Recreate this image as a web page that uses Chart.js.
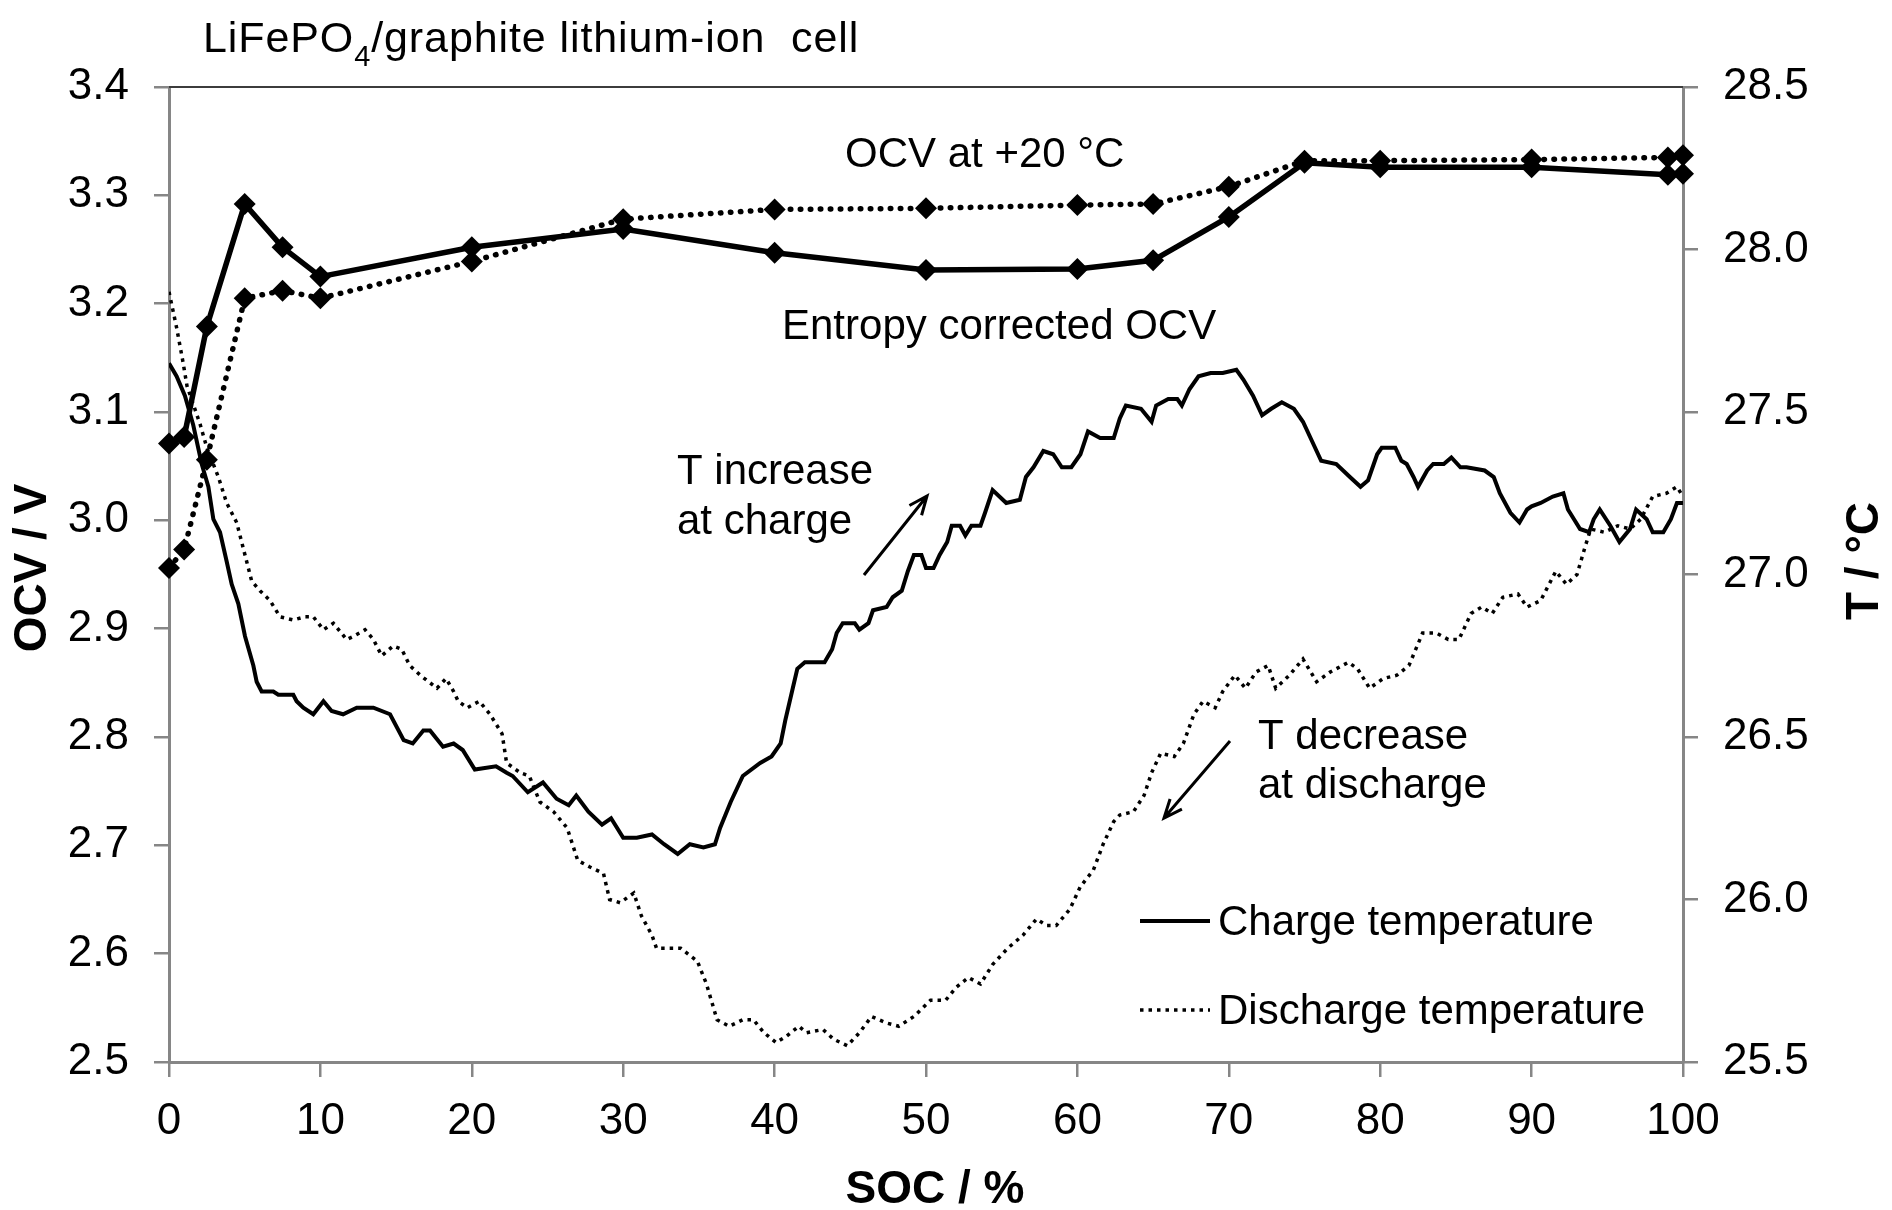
<!DOCTYPE html>
<html>
<head>
<meta charset="utf-8">
<title>LiFePO4/graphite lithium-ion cell</title>
<script src="https://cdn.jsdelivr.net/npm/chart.js@4.4.1/dist/chart.umd.min.js"></script>
<style>
  html, body { margin: 0; padding: 0; background: #fff; }
  canvas { display: block; }
</style>
</head>
<body>
<canvas id="grafico" width="1892" height="1210"></canvas>
<script>
/* ── Dados ────────────────────────────────────────────────── */
const socOcv      = [0, 1, 2.5, 5, 7.5, 10, 20, 30, 40, 50, 60, 65, 70, 75, 80, 90, 99, 100];
const ocv20       = [2.956, 2.973, 3.056, 3.205, 3.212, 3.205, 3.239, 3.278, 3.287, 3.288, 3.291, 3.292, 3.308, 3.332, 3.332, 3.333, 3.335, 3.337];
const ocvEntropia = [3.071, 3.077, 3.179, 3.292, 3.252, 3.225, 3.252, 3.269, 3.247, 3.231, 3.232, 3.240, 3.280, 3.330, 3.326, 3.326, 3.319, 3.320];

const socCarga = [0, 0.5, 1.05, 1.6, 2.16, 2.6, 2.93, 3.37, 3.81, 4.14, 4.58, 5.02, 5.57, 5.79, 6.12, 6.89, 7.22, 8.21, 8.43, 8.87,
  9.53, 10.2, 10.74, 11.5, 12.4, 13.5, 14.6, 15.5, 16.1, 16.8, 17.24, 18.1, 18.8, 19.4, 20.2, 21.6, 22.3, 22.7, 23.7, 24.7,
  25.6, 26.4, 26.9, 27.7, 28.6, 29.2, 30.0, 30.9, 31.9, 32.7, 33.6, 34.4, 35.3, 36.06, 36.4, 37.1, 37.9, 39.05, 39.8, 40.4,
  40.7, 41.2, 41.5, 42.0, 43.3, 43.8, 44.1, 44.5, 45.3, 45.6, 46.2, 46.5, 47.4, 47.8, 48.4, 48.8, 49.2, 49.7, 50.0, 50.5,
  50.9, 51.4, 51.7, 52.25, 52.6, 53.0, 53.6, 53.9, 54.4, 55.3, 56.2, 56.6, 57.1, 57.75, 58.4, 58.97, 59.6, 60.2, 60.7, 61.5,
  62.4, 62.8, 63.2, 64.2, 64.9, 65.2, 66.0, 66.6, 66.9, 67.4, 68.0, 68.8, 69.6, 70.5, 70.96, 71.6, 72.2, 72.8, 73.5, 74.3,
  74.9, 75.5, 76.1, 77.1, 78.0, 78.7, 79.2, 79.8, 80.1, 81.0, 81.4, 81.75, 82.2, 82.5, 83.1, 83.5, 84.2, 84.7, 85.3, 85.7,
  86.9, 87.5, 87.9, 88.6, 89.2, 89.7, 90.0, 90.6, 91.4, 92.1, 92.4, 92.8, 93.2, 93.8, 94.1, 94.5, 95.2, 95.8, 96.5, 96.9,
  97.6, 98.0, 98.7, 99.2, 99.6, 100];
const tempCarga = [27.65, 27.61, 27.55, 27.46, 27.34, 27.27, 27.17, 27.13, 27.04, 26.97, 26.91, 26.81, 26.72, 26.67, 26.64, 26.64, 26.63, 26.63, 26.61, 26.59,
  26.57, 26.61, 26.58, 26.57, 26.59, 26.59, 26.57, 26.49, 26.48, 26.52, 26.52, 26.47, 26.48, 26.46, 26.40, 26.41, 26.39, 26.38, 26.33, 26.36,
  26.31, 26.29, 26.32, 26.27, 26.23, 26.25, 26.19, 26.19, 26.20, 26.17, 26.14, 26.17, 26.16, 26.17, 26.22, 26.30, 26.38, 26.42, 26.44, 26.48,
  26.55, 26.65, 26.71, 26.73, 26.73, 26.77, 26.82, 26.85, 26.85, 26.83, 26.85, 26.89, 26.90, 26.93, 26.95, 27.01, 27.06, 27.06, 27.02, 27.02,
  27.06, 27.10, 27.15, 27.15, 27.12, 27.15, 27.15, 27.19, 27.26, 27.22, 27.23, 27.30, 27.33, 27.38, 27.37, 27.33, 27.33, 27.37, 27.44, 27.42,
  27.42, 27.48, 27.52, 27.51, 27.47, 27.52, 27.54, 27.54, 27.52, 27.57, 27.61, 27.62, 27.62, 27.63, 27.60, 27.55, 27.49, 27.51, 27.53, 27.51,
  27.47, 27.41, 27.35, 27.34, 27.30, 27.27, 27.29, 27.37, 27.39, 27.39, 27.35, 27.34, 27.30, 27.27, 27.32, 27.34, 27.34, 27.36, 27.33, 27.33,
  27.32, 27.30, 27.25, 27.19, 27.16, 27.20, 27.21, 27.22, 27.24, 27.25, 27.20, 27.17, 27.14, 27.13, 27.17, 27.20, 27.15, 27.10, 27.14, 27.20,
  27.17, 27.13, 27.13, 27.17, 27.22, 27.22];

const socDescarga = [0, 0.5, 0.9, 1.19, 1.63, 2.07, 2.5, 3.26, 3.81, 4.47, 4.91, 5.46, 6.01, 6.67, 7.33, 8.21, 8.98, 9.53, 10.2, 10.86,
  11.73, 12.2, 12.95, 13.5, 14.05, 14.8, 15.37, 15.9, 16.6, 17.7, 18.3, 18.8, 19.1, 19.7, 20.5, 21.2, 22.0, 22.3, 23.2, 23.8,
  24.5, 25.4, 26.3, 27.0, 27.8, 28.7, 29.1, 29.8, 30.7, 31.2, 31.9, 32.2, 33.1, 33.8, 34.9, 35.5, 36.2, 37.0, 37.9, 38.6,
  39.3, 40.1, 40.8, 41.6, 42.1, 43.2, 43.9, 44.8, 45.6, 46.4, 47.4, 48.2, 49.2, 50.3, 51.3, 52.0, 52.8, 53.6, 54.4, 55.4,
  56.4, 57.3, 57.97, 58.6, 59.5, 60.2, 61.05, 61.7, 62.4, 62.8, 63.7, 64.4, 64.9, 65.5, 66.4, 67.0, 67.7, 68.3, 69.1, 69.6,
  70.4, 71.1, 71.8, 72.6, 73.1, 74.0, 74.9, 75.8, 76.7, 77.9, 78.5, 79.3, 80.2, 81.1, 81.9, 82.8, 83.7, 84.5, 85.2, 86.0,
  86.7, 87.4, 88.1, 89.1, 89.7, 90.6, 91.6, 92.3, 93.0, 93.5, 93.9, 94.8, 95.7, 96.5, 97.2, 98.0, 98.9, 99.6, 100];
const tempDescarga = [27.87, 27.76, 27.66, 27.58, 27.52, 27.46, 27.39, 27.30, 27.22, 27.16, 27.08, 26.98, 26.95, 26.92, 26.87, 26.86, 26.87, 26.87, 26.83, 26.85,
  26.80, 26.81, 26.83, 26.80, 26.75, 26.78, 26.77, 26.72, 26.69, 26.65, 26.68, 26.64, 26.61, 26.59, 26.61, 26.57, 26.51, 26.42, 26.39, 26.38,
  26.30, 26.27, 26.22, 26.12, 26.10, 26.08, 26.00, 25.99, 26.02, 25.95, 25.89, 25.85, 25.85, 25.85, 25.81, 25.74, 25.63, 25.61, 25.63, 25.63,
  25.59, 25.56, 25.58, 25.61, 25.59, 25.60, 25.57, 25.55, 25.59, 25.64, 25.62, 25.61, 25.64, 25.69, 25.69, 25.73, 25.76, 25.74, 25.80, 25.85,
  25.89, 25.94, 25.92, 25.92, 25.97, 26.04, 26.09, 26.17, 26.24, 26.26, 26.27, 26.32, 26.39, 26.45, 26.44, 26.48, 26.57, 26.61, 26.59, 26.64,
  26.69, 26.65, 26.70, 26.72, 26.65, 26.69, 26.74, 26.67, 26.70, 26.73, 26.71, 26.65, 26.68, 26.69, 26.72, 26.82, 26.82, 26.80, 26.80, 26.88,
  26.90, 26.88, 26.93, 26.94, 26.90, 26.92, 27.01, 26.97, 27.00, 27.08, 27.14, 27.13, 27.15, 27.14, 27.17, 27.24, 27.25, 27.27, 27.24];

const socTicks  = [0, 10, 20, 30, 40, 50, 60, 70, 80, 90, 100];
const ocvTicks  = [2.5, 2.6, 2.7, 2.8, 2.9, 3.0, 3.1, 3.2, 3.3, 3.4];
const tempTicks = [25.5, 26.0, 26.5, 27.0, 27.5, 28.0, 28.5];

/* ── Estilo ───────────────────────────────────────────────── */
const FONTE = '"Liberation Sans", Arial, sans-serif';
const CINZA = '#868686';
Chart.defaults.font.family = FONTE;
Chart.defaults.color = '#000';

const _pts = (xs, ys) => xs.map((x, i) => ({ x, y: ys[i] }));
const _ticks = arr => axis => { axis.ticks = arr.map(v => ({ value: v })); };

const eixoY = (pos, min, max, arr, larg) => ({
  type: 'linear', position: pos, min, max,
  afterBuildTicks: _ticks(arr),
  afterFit: s => { s.width = larg; },
  grid:   { drawOnChartArea: false, tickLength: 15, lineWidth: 2.5, color: CINZA },
  border: { color: CINZA, width: 3 },
  ticks:  { font: { size: 44 }, color: '#000', padding: 25, callback: v => v.toFixed(1) },
  title:  { display: false },
});

/* ── Textos, setas e legenda ──────────────────────────────── */
const decoracao = {
  id: 'decoracao',
  afterDraw(chart) {
    const { ctx, chartArea: a } = chart;
    ctx.save();

    // borda superior da área do gráfico
    ctx.strokeStyle = '#3c3c3c'; ctx.lineWidth = 2;
    ctx.beginPath(); ctx.moveTo(a.left, a.top); ctx.lineTo(a.right, a.top); ctx.stroke();

    ctx.fillStyle = '#000'; ctx.textAlign = 'left';

    // título com subscrito
    ctx.textBaseline = 'alphabetic';
    ctx.letterSpacing = '0.9px';
    let x = 203;
    ctx.font = `43px ${FONTE}`;
    ctx.fillText('LiFePO', x, 52); x += ctx.measureText('LiFePO').width;
    ctx.font = `29px ${FONTE}`;
    ctx.fillText('4', x, 66); x += ctx.measureText('4').width;
    ctx.font = `43px ${FONTE}`;
    ctx.fillText('/graphite lithium-ion  cell', x, 52);
    ctx.letterSpacing = '0px';

    // anotações
    ctx.textBaseline = 'middle';
    ctx.font = `42px ${FONTE}`;
    [['OCV at +20 °C', 845, 155], ['Entropy corrected OCV', 782, 327],
     ['T increase', 677, 472], ['at charge', 677, 522],
     ['T decrease', 1258, 737], ['at discharge', 1258, 786]]
      .forEach(([t, tx, ty]) => ctx.fillText(t, tx, ty));

    const seta = (x1, y1, x2, y2) => {
      const ang = Math.atan2(y2 - y1, x2 - x1), h = 20;
      ctx.beginPath();
      ctx.moveTo(x1, y1); ctx.lineTo(x2, y2);
      ctx.moveTo(x2 - h * Math.cos(ang - 0.4), y2 - h * Math.sin(ang - 0.4));
      ctx.lineTo(x2, y2);
      ctx.lineTo(x2 - h * Math.cos(ang + 0.4), y2 - h * Math.sin(ang + 0.4));
      ctx.stroke();
    };
    ctx.strokeStyle = '#000'; ctx.lineWidth = 3; ctx.lineCap = 'butt';
    seta(864, 575, 927, 496);
    seta(1230, 741, 1164, 818);

    // legenda (só as temperaturas)
    [[2, 921], [3, 1010]].forEach(([i, ly]) => {
      const ds = chart.data.datasets[i];
      ctx.save();
      ctx.strokeStyle = ds.borderColor; ctx.lineWidth = ds.borderWidth;
      ctx.setLineDash(ds.borderDash || []);
      ctx.beginPath(); ctx.moveTo(1140, ly); ctx.lineTo(1210, ly); ctx.stroke();
      ctx.restore();
      ctx.fillText(ds.label, 1218, ly + 2);
    });

    // títulos dos eixos
    ctx.font = `bold 46px ${FONTE}`; ctx.textAlign = 'center';
    ctx.fillText('SOC / %', (a.left + a.right) / 2 + 9, 1190);
    [['OCV / V', 33, 568], ['T / °C', 1865, 561]].forEach(([t, tx, ty]) => {
      ctx.save(); ctx.translate(tx, ty); ctx.rotate(-Math.PI / 2);
      ctx.fillText(t, 0, 0); ctx.restore();
    });

    ctx.restore();
  }
};

/* ── Gráfico ──────────────────────────────────────────────── */
new Chart(document.getElementById('grafico'), {
  type: 'line',
  data: {
    datasets: [
      { label: 'OCV at +20 °C', data: _pts(socOcv, ocv20), yAxisID: 'yV',
        borderColor: '#000', borderWidth: 5.5, borderDash: [0.5, 9.5], borderCapStyle: 'round',
        pointStyle: 'rectRot', pointRadius: 11, pointBackgroundColor: '#000', pointBorderWidth: 0, clip: false },
      { label: 'Entropy corrected OCV', data: _pts(socOcv, ocvEntropia), yAxisID: 'yV',
        borderColor: '#000', borderWidth: 5.5,
        pointStyle: 'rectRot', pointRadius: 11, pointBackgroundColor: '#000', pointBorderWidth: 0, clip: false },
      { label: 'Charge temperature', data: _pts(socCarga, tempCarga), yAxisID: 'yT',
        borderColor: '#000', borderWidth: 4, pointRadius: 0 },
      { label: 'Discharge temperature', data: _pts(socDescarga, tempDescarga), yAxisID: 'yT',
        borderColor: '#000', borderWidth: 3.5, borderDash: [3.5, 5], pointRadius: 0 },
    ]
  },
  options: {
    responsive: false, animation: false, devicePixelRatio: 1,
    layout: { padding: { top: 87, left: 0, right: 0, bottom: 0 } },
    plugins: { legend: { display: false }, tooltip: { enabled: false }, title: { display: false } },
    elements: { line: { tension: 0 } },
    scales: {
      x: {
        type: 'linear', position: 'bottom', min: 0, max: 100,
        afterBuildTicks: _ticks(socTicks),
        afterFit: s => { s.height = 148; },
        grid:   { drawOnChartArea: false, tickLength: 15, lineWidth: 2.5, color: CINZA },
        border: { color: CINZA, width: 3 },
        ticks:  { font: { size: 44 }, color: '#000', padding: 18, maxRotation: 0, autoSkip: false, callback: v => String(v) },
      },
      yV: eixoY('left', 2.5, 3.4, ocvTicks, 169),
      yT: eixoY('right', 25.5, 28.5, tempTicks, 209),
    }
  },
  plugins: [decoracao]
});
</script>
</body>
</html>
